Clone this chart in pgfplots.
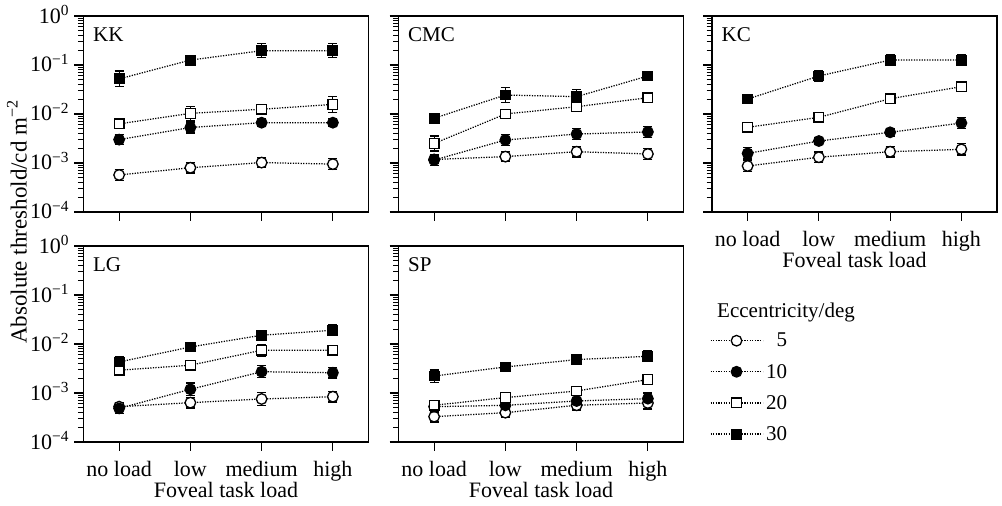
\documentclass[border=0pt]{standalone}
\usepackage{fontspec}
\setmainfont{Liberation Serif}
\usepackage{pgfplots}
\pgfplotsset{compat=1.18}

\tikzset{plabel/.style={anchor=north west, inner sep=0pt}}
\pgfplotsset{
  every axis/.append style={
    scale only axis, width=285pt, height=196pt,
    xmin=-0.5, xmax=3.5, xtick={0,1,2,3},
    ymin=1e-4, ymax=1,
    ytick={1e-4,1e-3,1e-2,1e-1,1},
    xtick pos=left, ytick pos=left,
    tick align=outside,
    major tick length=9pt, minor tick length=5.5pt,
    axis line style={line width=1.3pt},
    every tick/.append style={black, line width=1.2pt},
    xticklabels={}, yticklabels={},
    tick label style={font=\fontsize{22}{25}\selectfont},
    label style={font=\fontsize{22}{25}\selectfont},
    xticklabel style={anchor=base, yshift=-26pt},
    yticklabel style={anchor=base east, yshift=-7pt, xshift=-2pt},
    xlabel style={at={(axis description cs:0.5,0)}, anchor=base, yshift=-55.7pt},
    clip=false,
  },
  myser/.style={black, line width=1.25pt, dash pattern=on 1.25pt off 1.35pt,
    error bars/y dir=both, error bars/y explicit,
    error bars/error bar style={solid, line width=1.2pt},
    error bars/error mark options={solid, rotate=90, line width=1.2pt, mark size=4.6pt}},
  mfive/.style={myser, mark=*, mark size=5.3pt, mark options={solid, fill=white, draw=black, line width=1.3pt}},
  mten/.style={myser, mark=*, mark size=5.3pt, mark options={solid, fill=black}},
  mtwenty/.style={myser, mark=square*, mark size=4.8pt, mark options={solid, fill=white, line width=1.3pt}},
  mthirty/.style={myser, mark=square*, mark size=4.8pt, mark options={solid, fill=black}},
}

\begin{document}
\begin{tikzpicture}[font=\fontsize{21}{24}\selectfont]
\useasboundingbox (0,0) rectangle (1002pt,506pt);

% KK
\begin{semilogyaxis}[at={(83.5pt,294pt)}, anchor=south west,
  yticklabels={10\textsuperscript{−4},10\textsuperscript{−3},10\textsuperscript{−2},10\textsuperscript{−1},10\textsuperscript{0}}]
\addplot[mfive] coordinates {(0,5.7e-4) += (0,1.60e-4) -= (0,1.25e-4) (1,8.0e-4) += (0,2.24e-4) -= (0,1.75e-4) (2,1.02e-3) += (0,2.86e-4) -= (0,2.23e-4) (3,9.5e-4) += (0,2.85e-4) -= (0,2.19e-4)};
\addplot[mten] coordinates {(0,3.0e-3) += (0,8.4e-4) -= (0,6.56e-4) (1,5.3e-3) += (0,1.59e-3) -= (0,1.22e-3) (2,6.65e-3) += (0,1.33e-3) -= (0,1.11e-3) (3,6.65e-3) += (0,1.33e-3) -= (0,1.11e-3)};
\addplot[mtwenty] coordinates {(0,6.3e-3) += (0,1.58e-3) -= (0,1.26e-3) (1,1.03e-2) += (0,4.12e-3) -= (0,2.94e-3) (2,1.25e-2) += (0,2.5e-3) -= (0,2.08e-3) (3,1.57e-2) += (0,7.07e-3) -= (0,4.87e-3)};
\addplot[mthirty] coordinates {(0,0.052) += (0,0.0234) -= (0,0.0161) (1,0.126) += (0,0.0252) -= (0,0.021) (2,0.196) += (0,0.0784) -= (0,0.056) (3,0.196) += (0,0.0784) -= (0,0.056)};
\node[plabel] at (axis description cs:0.033,0.94) {KK};
\end{semilogyaxis}

% CMC
\begin{semilogyaxis}[at={(398.5pt,294pt)}, anchor=south west]
\addplot[mfive] coordinates {(0,1.18e-3) += (0,2.36e-4) -= (0,1.97e-4) (1,1.35e-3) += (0,3.78e-4) -= (0,2.95e-4) (2,1.7e-3) += (0,4.76e-4) -= (0,3.72e-4) (3,1.53e-3) += (0,4.28e-4) -= (0,3.35e-4)};
\addplot[mten] coordinates {(0,1.15e-3) += (0,3.45e-4) -= (0,2.65e-4) (1,2.95e-3) += (0,8.26e-4) -= (0,6.45e-4) (2,3.9e-3) += (0,1.17e-3) -= (0,9.0e-4) (3,4.3e-3) += (0,1.29e-3) -= (0,9.92e-4)};
\addplot[mtwenty] coordinates {(0,2.5e-3) += (0,1.05e-3) -= (0,7.39e-4) (1,1.0e-2) += (0,2.0e-3) -= (0,1.67e-3) (2,1.41e-2) += (0,2.82e-3) -= (0,2.35e-3) (3,2.15e-2) += (0,5.38e-3) -= (0,4.3e-3)};
\addplot[mthirty] coordinates {(0,8.2e-3) += (0,2.05e-3) -= (0,1.64e-3) (1,2.44e-2) += (0,0.0102) -= (0,7.23e-3) (2,2.26e-2) += (0,9.04e-3) -= (0,6.46e-3) (3,5.97e-2) += (0,0.0149) -= (0,0.0119)};
\node[plabel] at (axis description cs:0.033,0.94) {CMC};
\end{semilogyaxis}

% KC
\begin{semilogyaxis}[at={(712pt,294pt)}, anchor=south west,
  xticklabels={no load,low,medium,high}, xlabel={Foveal task load}]
\addplot[mfive] coordinates {(0,8.7e-4) += (0,2.44e-4) -= (0,1.9e-4) (1,1.31e-3) += (0,3.67e-4) -= (0,2.87e-4) (2,1.7e-3) += (0,4.76e-4) -= (0,3.72e-4) (3,1.9e-3) += (0,5.7e-4) -= (0,4.38e-4)};
\addplot[mten] coordinates {(0,1.57e-3) += (0,4.71e-4) -= (0,3.62e-4) (1,2.81e-3) += (0,5.62e-4) -= (0,4.68e-4) (2,4.23e-3) += (0,8.46e-4) -= (0,7.05e-4) (3,6.55e-3) += (0,1.97e-3) -= (0,1.51e-3)};
\addplot[mtwenty] coordinates {(0,5.35e-3) += (0,1.34e-3) -= (0,1.07e-3) (1,8.55e-3) += (0,2.14e-3) -= (0,1.71e-3) (2,2.05e-2) += (0,5.13e-3) -= (0,4.1e-3) (3,3.61e-2) += (0,9.03e-3) -= (0,7.22e-3)};
\addplot[mthirty] coordinates {(0,2.02e-2) += (0,5.05e-3) -= (0,4.04e-3) (1,5.97e-2) += (0,0.0179) -= (0,0.0138) (2,0.126) += (0,0.0353) -= (0,0.0276) (3,0.126) += (0,0.0353) -= (0,0.0276)};
\node[plabel] at (axis description cs:0.033,0.94) {KC};
\end{semilogyaxis}

% LG
\begin{semilogyaxis}[at={(83.5pt,64pt)}, anchor=south west,
  yticklabels={10\textsuperscript{−4},10\textsuperscript{−3},10\textsuperscript{−2},10\textsuperscript{−1},10\textsuperscript{0}},
  xticklabels={no load,low,medium,high}, xlabel={Foveal task load}]
\addplot[mfive] coordinates {(0,5.26e-4) += (0,1.05e-4) -= (0,8.77e-5) (1,6.35e-4) += (0,1.78e-4) -= (0,1.39e-4) (2,7.55e-4) += (0,2.79e-4) -= (0,2.04e-4) (3,8.41e-4) += (0,2.35e-4) -= (0,1.84e-4)};
\addplot[mten] coordinates {(0,4.86e-4) += (0,1.36e-4) -= (0,1.06e-4) (1,1.19e-3) += (0,4.17e-4) -= (0,3.09e-4) (2,2.72e-3) += (0,8.98e-4) -= (0,6.75e-4) (3,2.59e-3) += (0,7.25e-4) -= (0,5.67e-4)};
\addplot[mtwenty] coordinates {(0,2.92e-3) += (0,5.84e-4) -= (0,4.87e-4) (1,3.69e-3) += (0,9.23e-4) -= (0,7.38e-4) (2,7.46e-3) += (0,2.46e-3) -= (0,1.85e-3) (3,7.46e-3) += (0,1.87e-3) -= (0,1.49e-3)};
\addplot[mthirty] coordinates {(0,4.3e-3) += (0,1.2e-3) -= (0,9.41e-4) (1,8.69e-3) += (0,2.17e-3) -= (0,1.74e-3) (2,1.51e-2) += (0,3.78e-3) -= (0,3.02e-3) (3,1.91e-2) += (0,5.35e-3) -= (0,4.18e-3)};
\node[plabel] at (axis description cs:0.033,0.94) {LG};
\end{semilogyaxis}

% SP
\begin{semilogyaxis}[at={(398.5pt,64pt)}, anchor=south west,
  xticklabels={no load,low,medium,high}, xlabel={Foveal task load},
  legend image code/.code={\draw[mark repeat=2, mark phase=2] plot coordinates {(0pt,0pt) (26pt,0pt) (52pt,0pt)};},
  legend cell align=right,
  legend style={at={(1.092,0.572)}, anchor=north west, draw=none, fill=none, inner sep=0pt,
    row sep=9.7pt, nodes={inner sep=3pt}, font=\fontsize{21}{24}\selectfont}]
\addplot[mfive] coordinates {(0,3.29e-4) += (0,9.21e-5) -= (0,7.2e-5) (1,3.97e-4) += (0,9.93e-5) -= (0,7.94e-5) (2,5.62e-4) += (0,1.41e-4) -= (0,1.12e-4) (3,6.25e-4) += (0,2.06e-4) -= (0,1.55e-4)};
\addplot[mten] coordinates {(0,5.26e-4) += (0,1.47e-4) -= (0,1.15e-4) (1,5.6e-4) += (0,1.57e-4) -= (0,1.23e-4) (2,6.87e-4) += (0,1.92e-4) -= (0,1.5e-4) (3,7.67e-4) += (0,2.3e-4) -= (0,1.77e-4)};
\addplot[mtwenty] coordinates {(0,5.62e-4) += (0,1.41e-4) -= (0,1.12e-4) (1,8.07e-4) += (0,2.02e-4) -= (0,1.61e-4) (2,1.1e-3) += (0,2.75e-4) -= (0,2.2e-4) (3,1.88e-3) += (0,4.7e-4) -= (0,3.76e-4)};
\addplot[mthirty] coordinates {(0,2.22e-3) += (0,7.33e-4) -= (0,5.51e-4) (1,3.4e-3) += (0,8.5e-4) -= (0,6.8e-4) (2,4.81e-3) += (0,1.2e-3) -= (0,9.62e-4) (3,5.61e-3) += (0,1.57e-3) -= (0,1.23e-3)};
\legend{5,10,20,30}
\node[plabel] at (axis description cs:0.033,0.94) {SP};
\end{semilogyaxis}

\node[anchor=base west, inner sep=0pt] at (717pt,188pt) {Eccentricity/deg};
\node[rotate=90, inner sep=0pt, font=\fontsize{23}{26}\selectfont] at (17pt,284pt) {Absolute threshold/cd m\textsuperscript{−2}};
\end{tikzpicture}
\end{document}
